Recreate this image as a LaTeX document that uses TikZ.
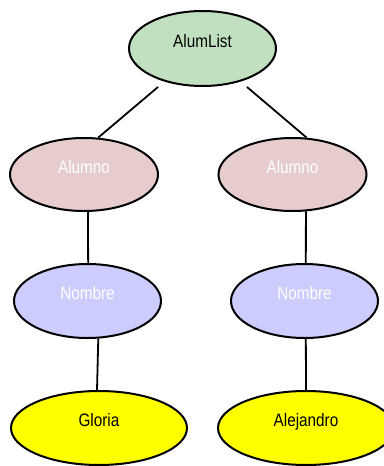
\documentclass[tikz,border=0pt]{standalone}
\usepackage{fontspec}
\setmainfont{Liberation Sans}[FakeStretch=0.85]
\usetikzlibrary{shapes.geometric,calc}
\definecolor{rootfill}{RGB}{192,224,192}
\definecolor{alumnofill}{RGB}{230,204,204}
\definecolor{nombrefill}{RGB}{204,204,255}
\definecolor{valuefill}{RGB}{255,255,0}
\tikzset{
  oval/.style={ellipse, draw=black, line width=2pt, inner sep=0pt,
    font=\fontsize{18}{21}\selectfont, text height=13.5pt, text depth=16.5pt},
  rootnode/.style={oval, fill=rootfill, text=black, minimum width=147pt, minimum height=75pt},
  alumnonode/.style={oval, fill=alumnofill, text=white, minimum width=148pt, minimum height=73pt},
  nombrenode/.style={oval, fill=nombrefill, text=white, minimum width=147pt, minimum height=74pt},
  valuenode/.style={oval, fill=valuefill, text=black, minimum width=176pt, minimum height=74pt},
  link/.style={draw=black, line width=1.8pt}
}
\begin{document}
\begin{tikzpicture}[x=1pt,y=-1pt]
  \useasboundingbox (0,0) rectangle (383,466);

  % tree nodes
  \node[rootnode]   (root) at (202.5,48.5) {AlumList};
  \node[alumnonode] (al1)  at (84,174.5)   {Alumno};
  \node[alumnonode] (al2)  at (292.5,174.5) {Alumno};
  \node[nombrenode] (no1)  at (87.5,301)   {Nombre};
  \node[nombrenode] (no2)  at (304.5,301)  {Nombre};
  \node[valuenode]  (gl)   at (99,428)     {Gloria};
  \node[valuenode]  (ale)  at (306,428)    {Alejandro};

  % branch start points below the root
  \coordinate (rl) at ($(root.south)+(-44.5,0)$);
  \coordinate (rr) at ($(root.south)+(44.5,0)$);

  % connectors
  \draw[link] (rl) -- (al1.69);
  \draw[link] (rr) -- (al2.69);
  \draw[link] (al1.-84) -- (no1.89);
  \draw[link] (al2.-70) -- (no2.88);
  \draw[link] (no1.-74) -- (gl.93);
  \draw[link] (no2.-88.5) -- (ale.90);
\end{tikzpicture}
\end{document}
